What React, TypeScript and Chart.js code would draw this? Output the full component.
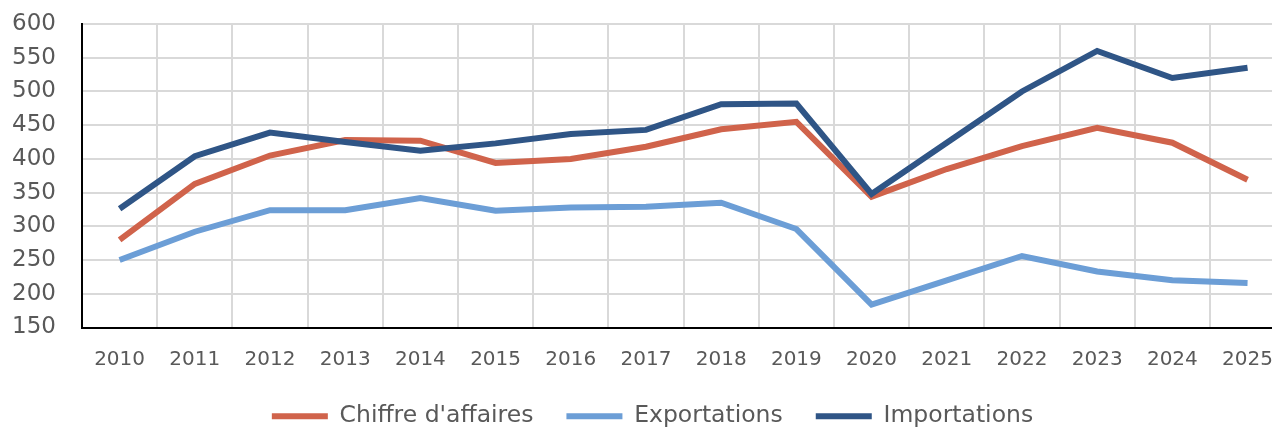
import React, { useEffect, useRef } from "react";
import { Chart, registerables } from "chart.js";

Chart.register(...registerables);

const years = ["2010","2011","2012","2013","2014","2015","2016","2017","2018","2019","2020","2021","2022","2023","2024","2025"];
const chiffreAffaires = [280, 363, 405, 428, 427, 394, 400, 418, 444, 455, 344, 385, 419, 446, 424, 369];
const exportations = [250, 292, 324, 324, 342, 323, 328, 329, 335, 296, 184, 220, 256, 233, 220, 216];
const importations = [326, 404, 439, 425, 412, 423, 437, 443, 481, 482, 348, 424, 500, 560, 520, 535];

const FONT = "'DejaVu Sans'";
const TEXT = "#595959";

export default function App() {
  const ref = useRef<HTMLCanvasElement | null>(null);
  useEffect(() => {
    if (!ref.current) return;
    const chart = new Chart(ref.current, {
      type: "line",
      data: {
        labels: years,
        datasets: [
          { label: "Chiffre d'affaires", data: chiffreAffaires, borderColor: "#D0634B", backgroundColor: "#D0634B", borderWidth: 6, pointRadius: 0, tension: 0, order: 2 },
          { label: "Exportations", data: exportations, borderColor: "#6C9ED6", backgroundColor: "#6C9ED6", borderWidth: 6, pointRadius: 0, tension: 0, order: 1 },
          { label: "Importations", data: importations, borderColor: "#2F5586", backgroundColor: "#2F5586", borderWidth: 6, pointRadius: 0, tension: 0, order: 0 },
        ],
      },
      options: {
        responsive: false,
        animation: false,
        layout: { padding: { left: 12, top: 24, right: 0, bottom: 0 } },
        plugins: {
          tooltip: { enabled: false },
          legend: {
            position: "bottom",
            labels: {
              color: TEXT,
              font: { family: FONT, size: 23.5 },
              boxWidth: 56,
              boxHeight: 6,
              padding: 33,
              generateLabels: (c: any) =>
                c.data.datasets.map((ds: any, i: number) => ({
                  text: ds.label,
                  fillStyle: ds.borderColor,
                  strokeStyle: ds.borderColor,
                  lineWidth: 0,
                  hidden: false,
                  datasetIndex: i,
                  fontColor: TEXT,
                })),
            },
          },
        },
        scales: {
          x: {
            offset: true,
            grid: { offset: true, color: "#d9d9d9", lineWidth: 2, drawTicks: false },
            border: { color: "#000", width: 2 },
            ticks: { color: TEXT, font: { family: FONT, size: 20 }, padding: 20, maxRotation: 0, autoSkip: false },
            afterFit: (s: any) => { s.height = 44; },
          },
          y: {
            min: 150,
            max: 600,
            grid: { color: "#d9d9d9", lineWidth: 2, drawTicks: false },
            border: { color: "#000", width: 2 },
            ticks: { stepSize: 50, color: TEXT, font: { family: FONT, size: 23 }, padding: 0, crossAlign: "far" },
            afterFit: (s: any) => { s.width = 70; },
          },
        },
      },
    });
    return () => chart.destroy();
  }, []);
  return (
    <div style={{ position: "fixed", left: 0, top: 0, width: 1272, height: 427, overflow: "hidden", background: "#fff" }}>
      <canvas ref={ref} width={1293} height={438} style={{ display: "block" }} />
    </div>
  );
}
